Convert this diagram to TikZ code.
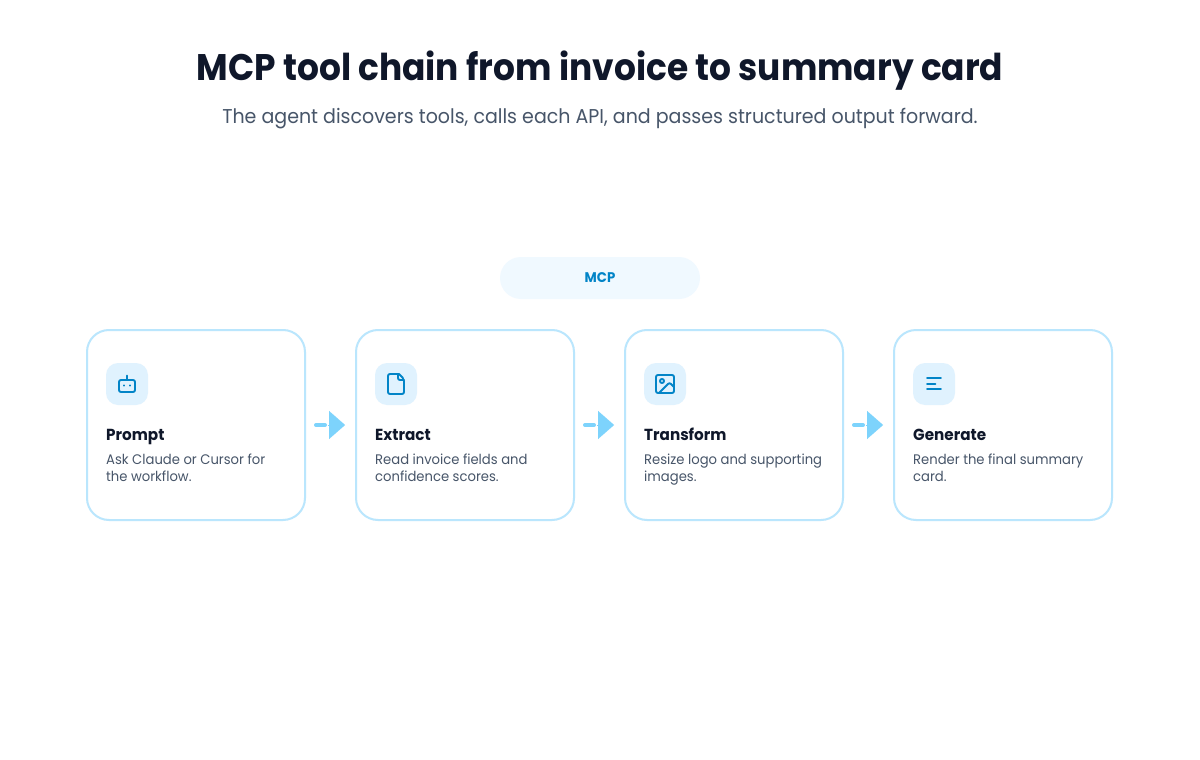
\documentclass[tikz,border=0pt]{standalone}
\usepackage{fontspec}
\setmainfont{Poppins}
\newfontfamily\titlefont[FakeStretch=0.93]{Poppins}
\newfontfamily\bodyfont[FakeStretch=0.95]{Poppins}
\usetikzlibrary{arrows.meta,calc}
\definecolor{ink}{HTML}{0F172A}
\definecolor{slate}{HTML}{475569}
\definecolor{cardline}{HTML}{BAE6FD}
\definecolor{iconbg}{HTML}{E0F2FE}
\definecolor{iconfg}{HTML}{0284C7}
\definecolor{pillbg}{HTML}{F0F9FF}
\definecolor{arrowc}{HTML}{7DD3FC}
\tikzset{
  x=1pt,y=-1pt,
  card/.style={draw=cardline,line width=2pt,fill=white,rounded corners=22pt,minimum width=218pt,minimum height=190pt,outer sep=0pt,inner sep=0pt},
  iconbox/.style={fill=iconbg,rounded corners=12pt,minimum width=42pt,minimum height=42pt,outer sep=0pt,inner sep=0pt},
  pill/.style={fill=pillbg,rounded corners=21pt,minimum width=200pt,minimum height=42pt,inner sep=0pt,text=iconfg,font=\bodyfont\bfseries\fontsize{14}{16}\selectfont},
  cardtitle/.style={anchor=base west,inner sep=0pt,text=ink,font=\bodyfont\bfseries\fontsize{16}{19}\selectfont},
  carddesc/.style={anchor=base west,inner sep=0pt,text=slate,align=left,font=\bodyfont\fontsize{13.85}{17}\selectfont},
  icn/.style={draw=iconfg,line width=1.9pt,line cap=round,line join=round},
  stub/.style={draw=arrowc,line width=4pt,line cap=round,shorten <=11pt,shorten >=31pt},
  headtip/.style={draw=arrowc,line width=0.1pt,-{Triangle[length=16pt,width=28pt,fill=arrowc]},shorten <=23pt,shorten >=11pt},
}
\begin{document}
\begin{tikzpicture}
\useasboundingbox (0,0) rectangle (1200,760);
\fill[white] (0,0) rectangle (1200,760);
\node[inner sep=0pt,text=ink,font=\titlefont\bfseries\fontsize{37}{44}\selectfont] (title) at (600,71) {MCP tool chain from invoice to summary card};
\node[inner sep=0pt,text=slate,font=\bodyfont\fontsize{20}{24}\selectfont] (subtitle) at (600,119) {The agent discovers tools, calls each API, and passes structured output forward.};
\node[pill] (mcp) at (600,278) {MCP};
\node[card] (c1) at (196,425) {};
\node[card] (c2) at (465,425) {};
\node[card] (c3) at (734,425) {};
\node[card] (c4) at (1003,425) {};
\node[iconbox] (i1) at (127,384) {};
\node[iconbox] (i2) at (396,384) {};
\node[iconbox] (i3) at (665,384) {};
\node[iconbox] (i4) at (934,384) {};
% robot
\begin{scope}[shift={(115,372)}]
\draw[icn,rounded corners=2pt] (4,8) rectangle (20,20);
\draw[icn] (12,8) -- (12,3.5);
\draw[icn,line width=1.5pt] (9,13.2) -- (9,13.8) (15,13.2) -- (15,13.8);
\end{scope}
% file
\begin{scope}[shift={(384,372)}]
\draw[icn,rounded corners=2pt] (4,2) -- (4,22) -- (20,22) -- (20,7) [sharp corners] -- (15,2) [rounded corners=2pt] -- cycle;
\draw[icn,rounded corners=2pt] (14,2) -- (14,8) -- (20,8);
\end{scope}
% image
\begin{scope}[shift={(653,372)}]
\draw[icn,rounded corners=2pt] (3,3) rectangle (21,21);
\draw[icn] (9,9) circle[radius=2];
\draw[icn] (21,15) -- (17.9,11.9) .. controls (17.1,11.1) and (15.9,11.1) .. (15.1,11.9) -- (6,21);
\end{scope}
% lines
\begin{scope}[shift={(922,372)}]
\draw[icn] (5,6) -- (19,6);
\draw[icn] (5,11.7) -- (13.5,11.7);
\draw[icn] (5,17.3) -- (19,17.3);
\end{scope}
\node[cardtitle] (t1) at (106,440) {Prompt};
\node[cardtitle] (t2) at (375,440) {Extract};
\node[cardtitle] (t3) at (644,440) {Transform};
\node[cardtitle] (t4) at (913,440) {Generate};
\node[carddesc] (d1) at (106,481) {Ask Claude or Cursor for\\the workflow.};
\node[carddesc] (d2) at (375,481) {Read invoice fields and\\confidence scores.};
\node[carddesc] (d3) at (644,481) {Resize logo and supporting\\images.};
\node[carddesc] (d4) at (913,481) {Render the final summary\\card.};
\foreach \a/\b in {c1/c2,c2/c3,c3/c4}{
  \draw[stub] (\a.east) -- (\b.west);
  \draw[headtip] (\a.east) -- (\b.west);
}
\end{tikzpicture}
\end{document}
